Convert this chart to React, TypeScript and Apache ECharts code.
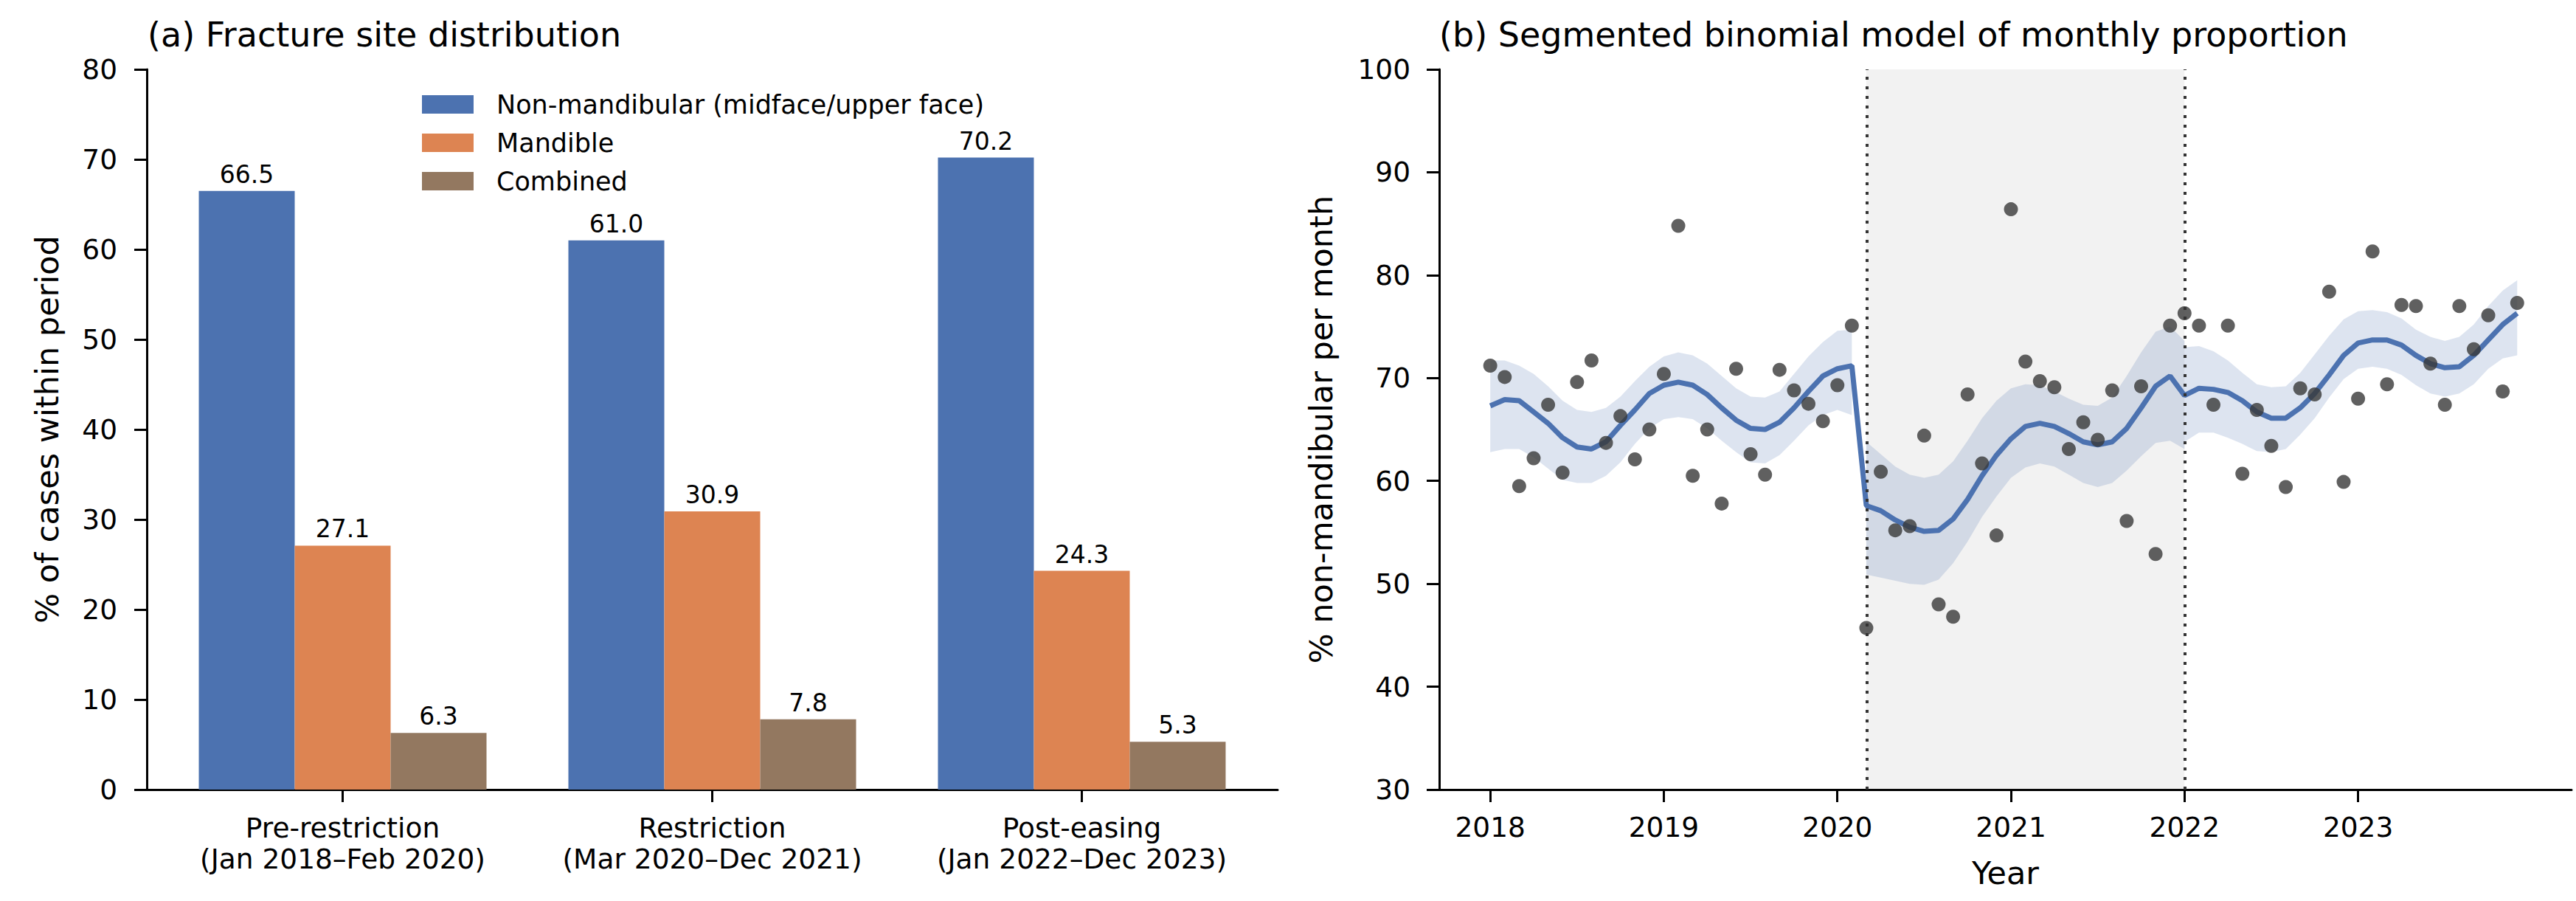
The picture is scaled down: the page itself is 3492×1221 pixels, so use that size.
import React, { useEffect, useRef } from "react";
import * as echarts from "echarts";

// panel (a): share of fracture sites per period
const periods = [
  "Pre-restriction\n(Jan 2018–Feb 2020)",
  "Restriction\n(Mar 2020–Dec 2021)",
  "Post-easing\n(Jan 2022–Dec 2023)",
];
const nonMandibular = [66.5, 61.0, 70.2];
const mandible = [27.1, 30.9, 24.3];
const combined = [6.3, 7.8, 5.3];
const siteTicks = [0, 1, 2];

// panel (b): monthly proportion, Jan 2018 .. Dec 2023 (month index 0..71)
const yearTicks = [2018, 2019, 2020, 2021, 2022, 2023];
const monthlyPct = [
  71.2, 70.1, 59.5, 62.2, 67.4, 60.8, 69.6, 71.7, 63.7, 66.3, 62.1, 65.0,
  70.4, 84.8, 60.5, 65.0, 57.8, 70.9, 62.6, 60.6, 70.8, 68.8, 67.5, 65.8,
  69.3, 75.1, 45.7, 60.9, 55.2, 55.6, 64.4, 48.0, 46.8, 68.4, 61.7, 54.7,
  86.4, 71.6, 69.7, 69.1, 63.1, 65.7, 64.0, 68.8, 56.1, 69.2, 52.9, 75.1,
  76.3, 75.1, 67.4, 75.1, 60.7, 66.9, 63.4, 59.4, 69.0, 68.4, 78.4, 59.9,
  68.0, 82.3, 69.4, 77.1, 77.0, 71.4, 67.4, 77.0, 72.8, 76.1, 68.7, 77.3,
];

// fitted model, per segment
const fitPre = [
  67.3, 67.9, 67.8, 66.7, 65.6, 64.2, 63.3, 63.1, 63.8, 65.4, 66.9, 68.5, 69.3,
  69.6, 69.3, 68.4, 67.1, 65.9, 65.1, 65.0, 65.7, 67.1, 68.7, 70.2, 70.9, 71.2,
];
const fitRestr = [
  57.6, 57.1, 56.2, 55.5, 55.1, 55.2, 56.3, 58.2, 60.5, 62.5, 64.1, 65.3, 65.6,
  65.3, 64.6, 63.8, 63.5, 63.8, 65.1, 67.1, 69.2, 70.2,
];
const fitPost = [
  68.3, 69.0, 68.9, 68.6, 67.8, 66.7, 66.1, 66.1, 67.1, 68.5, 70.3, 72.2, 73.4,
  73.7, 73.7, 73.2, 72.2, 71.4, 71.0, 71.1, 72.2, 73.7, 75.2, 76.3,
];

// 95% bands, per segment
const preStart = 0;
const preUpper = [
  71.7, 71.7, 71.2, 70.4, 69.2, 67.8, 66.9, 66.7, 67.1, 68.2, 69.7, 71.1, 72.1,
  72.5, 72.2, 71.4, 70.2, 69.0, 68.2, 68.1, 68.7, 70.4, 72.1, 73.5, 74.6, 74.7,
];
const preLower = [
  62.8, 63.1, 63.1, 62.3, 61.2, 60.1, 59.8, 59.8, 60.5, 61.8, 63.6, 65.1, 66.0,
  66.2, 66.0, 65.1, 63.9, 62.8, 61.8, 61.7, 62.5, 63.9, 65.4, 66.4, 66.9, 66.4,
];
const restrStart = 26;
const restrUpper = [
  63.8, 62.6, 61.4, 60.6, 60.3, 60.6, 61.9, 63.9, 66.1, 67.8, 69.0, 69.4, 69.3,
  68.7, 68.0, 67.4, 67.3, 68.1, 70.2, 72.5, 74.5, 75.0, 73.6,
];
const restrLower = [
  50.9, 50.6, 50.3, 50.0, 49.9, 50.4, 52.0, 54.1, 56.5, 58.5, 60.3, 61.3, 61.7,
  61.4, 60.6, 59.8, 59.4, 59.8, 61.0, 62.4, 63.7, 63.9, 63.1,
];
const postStart = 48;
const postUpper = [
  73.0, 73.1, 72.6, 71.7, 70.5, 69.4, 69.1, 69.2, 70.5, 72.3, 74.1, 75.7, 76.5,
  76.6, 76.4, 75.8, 74.7, 74.0, 73.6, 74.0, 75.2, 77.0, 78.5, 79.5,
];
const postLower = [
  63.8, 64.7, 64.7, 64.2, 63.6, 62.9, 62.8, 63.1, 64.5, 66.1, 68.1, 69.9, 70.9,
  71.1, 70.9, 70.3, 69.3, 68.5, 68.2, 68.5, 69.4, 70.9, 71.9, 72.2,
];

const restrictionStart = 2020 + 2 / 12;
const restrictionEnd = 2022;

const FONT = "DejaVu Sans";
const BLUE = "#4C72B0";
const ORANGE = "#DD8452";
const BROWN = "#937860";
const BAND = "rgba(76, 114, 176, 0.19)";

const toYear = (m: number) => 2018 + m / 12;

function bandSeries(start: number, upper: number[], lower: number[]) {
  const data = upper.map((u, i) => [toYear(start + i), lower[i], u]);
  return {
    type: "custom",
    xAxisIndex: 1,
    yAxisIndex: 1,
    z: 2,
    silent: true,
    data,
    encode: { x: 0, y: [1, 2] },
    renderItem: (params: any, api: any) => {
      if (params.dataIndex !== 0) return null;
      const top = data.map((d) => api.coord([d[0], d[2]]));
      const bottom = data.map((d) => api.coord([d[0], d[1]])).reverse();
      return {
        type: "polygon",
        shape: { points: top.concat(bottom) },
        style: { fill: BAND },
      };
    },
  };
}

function barSeries(name: string, values: number[], color: string) {
  return {
    name,
    type: "bar",
    xAxisIndex: 0,
    yAxisIndex: 0,
    data: values.map((v, i) => [i, v]),
    barWidth: 130,
    barGap: "0%",
    itemStyle: { color },
    label: {
      show: true,
      position: "top",
      distance: 6,
      fontFamily: FONT,
      fontSize: 33,
      color: "#000",
      formatter: (p: any) => p.value[1].toFixed(1),
    },
  };
}

const axisLine = { show: true, onZero: false, lineStyle: { color: "#000", width: 3 } };
const axisTick = { show: true, length: 17, lineStyle: { color: "#000", width: 3 } };
const tickLabel = { color: "#000", fontFamily: FONT, fontSize: 37.5 };
const nameStyle = { color: "#000", fontFamily: FONT, fontSize: 43 };
const titleStyle = { color: "#000", fontFamily: FONT, fontSize: 46, fontWeight: "normal" };

export default function App() {
  const chartRef = useRef<HTMLDivElement>(null);

  useEffect(() => {
    document.body.style.margin = "0";
    if (!chartRef.current) return;
    const chart = echarts.init(chartRef.current, undefined, { renderer: "svg" });

    const fitted = fitPre.concat(fitRestr, fitPost).map((v, m) => [toYear(m), v]);
    const points = monthlyPct.map((v, m) => [toYear(m), v]);

    chart.setOption({
      animation: false,
      backgroundColor: "#fff",
      textStyle: { fontFamily: FONT },
      title: [
        { text: "(a) Fracture site distribution", left: 200, top: 24, padding: 0, textStyle: titleStyle },
        { text: "(b) Segmented binomial model of monthly proportion", left: 1951, top: 24, padding: 0, textStyle: titleStyle },
      ],
      legend: {
        data: ["Non-mandibular (midface/upper face)", "Mandible", "Combined"],
        orient: "vertical",
        left: 572,
        top: 124,
        padding: 0,
        itemWidth: 70,
        itemHeight: 25,
        itemGap: 17,
        icon: "rect",
        selectedMode: false,
        textStyle: { color: "#000", fontFamily: FONT, fontSize: 35, padding: [0, 0, 0, 26] },
      },
      grid: [
        { left: 199, top: 94, width: 1533, height: 976 },
        { left: 1951, top: 94, width: 1535, height: 976 },
      ],
      xAxis: [
        {
          type: "value",
          gridIndex: 0,
          min: -0.53,
          max: 2.53,
          splitLine: { show: false },
          axisLine,
          axisTick: { ...axisTick, customValues: siteTicks },
          axisLabel: {
            ...tickLabel,
            customValues: siteTicks,
            margin: 31,
            lineHeight: 42,
            formatter: (v: number) => periods[Math.round(v)],
          },
        },
        {
          type: "value",
          gridIndex: 1,
          min: 2017.706,
          max: 2024.23,
          name: "Year",
          nameLocation: "middle",
          nameGap: 91,
          nameTextStyle: nameStyle,
          splitLine: { show: false },
          axisLine,
          axisTick: { ...axisTick, customValues: yearTicks },
          axisLabel: { ...tickLabel, customValues: yearTicks, margin: 32, formatter: (v: number) => String(v) },
        },
      ],
      yAxis: [
        {
          type: "value",
          gridIndex: 0,
          min: 0,
          max: 80,
          interval: 10,
          name: "% of cases within period",
          nameLocation: "middle",
          nameGap: 114,
          nameTextStyle: nameStyle,
          splitLine: { show: false },
          axisLine,
          axisTick,
          axisLabel: { ...tickLabel, margin: 40 },
        },
        {
          type: "value",
          gridIndex: 1,
          min: 30,
          max: 100,
          interval: 10,
          name: "% non-mandibular per month",
          nameLocation: "middle",
          nameGap: 139,
          nameTextStyle: nameStyle,
          splitLine: { show: false },
          axisLine,
          axisTick,
          axisLabel: { ...tickLabel, margin: 39 },
        },
      ],
      series: [
        barSeries("Non-mandibular (midface/upper face)", nonMandibular, BLUE),
        barSeries("Mandible", mandible, ORANGE),
        barSeries("Combined", combined, BROWN),
        bandSeries(preStart, preUpper, preLower),
        bandSeries(restrStart, restrUpper, restrLower),
        bandSeries(postStart, postUpper, postLower),
        {
          name: "Model",
          type: "line",
          xAxisIndex: 1,
          yAxisIndex: 1,
          z: 3,
          data: fitted,
          showSymbol: false,
          silent: true,
          lineStyle: { color: BLUE, width: 7 },
        },
        {
          name: "Observed",
          type: "scatter",
          xAxisIndex: 1,
          yAxisIndex: 1,
          z: 4,
          data: points,
          symbolSize: 19,
          itemStyle: { color: "#383838" },
          markArea: {
            silent: true,
            itemStyle: { color: "rgba(128, 128, 128, 0.1)" },
            data: [[{ xAxis: restrictionStart }, { xAxis: restrictionEnd }]],
          },
          markLine: {
            silent: true,
            symbol: ["none", "none"],
            label: { show: false },
            lineStyle: { color: "#333", width: 4, type: [4, 9] },
            data: [{ xAxis: restrictionStart }, { xAxis: restrictionEnd }],
          },
        },
      ],
    });

    return () => {
      chart.dispose();
    };
  }, []);

  return <div ref={chartRef} style={{ width: 3492, height: 1221 }} />;
}
